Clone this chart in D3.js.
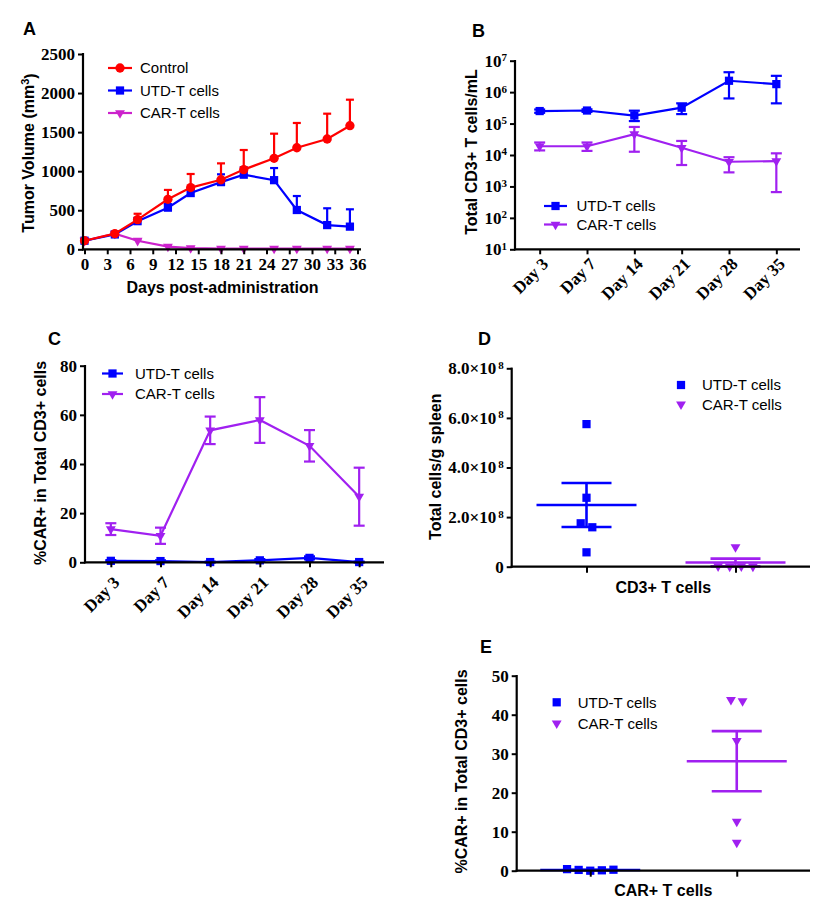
<!DOCTYPE html>
<html><head><meta charset="utf-8">
<script src="https://cdn.jsdelivr.net/npm/d3@7"></script>
<style>
body{margin:0;background:#fff;}
svg{display:block;}
.tick text{font-family:"Liberation Serif","Times New Roman",serif;font-weight:bold;font-size:17px;fill:#000;}
.title{font-family:"Liberation Sans",Arial,sans-serif;font-weight:bold;font-size:16px;fill:#000;}
.legend{font-family:"Liberation Sans",Arial,sans-serif;font-size:15px;fill:#000;}
.plabel{font-family:"Liberation Sans",Arial,sans-serif;font-weight:bold;font-size:18px;fill:#000;}
</style></head><body>
<svg id="chart" width="821" height="913"></svg>
<script>
// ---------- DATA ----------
// Panel A: tumor volume
const aDays = [0, 4, 7, 11, 14, 18, 21, 25, 28, 32, 35];
const aXTicks = [0, 3, 6, 9, 12, 15, 18, 21, 24, 27, 30, 33, 36];
const aYTicks = [0, 500, 1000, 1500, 2000, 2500];
const aControl   = [110, 200, 380, 640, 790, 890, 1020, 1165, 1300, 1412, 1582];
const aControlSD = [15, 20, 75, 120, 174, 210, 251, 315, 317, 324, 333];
const aUtd       = [110, 190, 360, 533, 720, 860, 955, 885, 503, 310, 290];
const aUtdSD     = [10, 15, 40, 45, 60, 100, 95, 155, 179, 215, 222];
const aCar       = [110, 200, 110, 35, 15, 10, 10, 10, 10, 10, 8];
const aCarSD     = [5, 10, 15, 10, 5, 3, 3, 3, 3, 3, 3];

// Panel B: total CD3+ T cells/mL (log scale)
const timeCats = ["Day 3", "Day 7", "Day 14", "Day 21", "Day 28", "Day 35"];
const bYTicks = [1e1, 1e2, 1e3, 1e4, 1e5, 1e6, 1e7];
const bUtd   = [2.5e5, 2.6e5, 1.8e5, 3.2e5, 2.3e6, 1.8e6];
const bUtdHi = [2.8e5, 2.85e5, 2.57e5, 4.4e5, 4.3e6, 3.3e6];
const bUtdLo = [2.2e5, 2.35e5, 1.2e5, 2.0e5, 6.3e5, 4.4e5];
const bCar   = [1.9e4, 1.9e4, 4.6e4, 1.7e4, 6.1e3, 6.4e3];
const bCarHi = [2.5e4, 2.5e4, 7.8e4, 2.8e4, 8.5e3, 1.13e4];
const bCarLo = [1.4e4, 1.35e4, 1.27e4, 4.8e3, 2.8e3, 6.6e2];

// Panel C: %CAR+ in total CD3+
const cYTicks = [0, 20, 40, 60, 80];
const cUtd    = [0.6, 0.5, 0.1, 0.8, 1.8, 0.1];
const cUtdErr = [0.3, 0.3, 0.2, 0.5, 0.6, 0.2];
const cCar    = [13.5, 10.8, 53.7, 57.9, 47.4, 26.7];
const cCarErr = [2.4, 3.3, 5.6, 9.3, 6.4, 11.8];

// Panel D: total cells / g spleen
const groupCats = ["UTD-T cells", "CAR-T cells"];
const dYTicks = [0, 2e8, 4e8, 6e8, 8e8];
const dUtd = [5.75e8, 2.78e8, 1.75e8, 1.59e8, 0.58e8];
const dCar = [0.79e8, 0.02e8, 0.01e8, 0.02e8, 0.01e8];

// Panel E: %CAR+ in total CD3+ (spleen)
const eYTicks = [0, 10, 20, 30, 40, 50];
const eUtd = [0.4, 0.2, 0.0, 0.1, 0.25];
const eCar = [43.8, 43.5, 33.3, 12.6, 7.2];

// ---------- STYLE ----------
const RED = "#ff0000", BLUE = "#0000ff", MAGENTA = "#cc22cc", PURPLE = "#a020f0";
const svg = d3.select("#chart");

function axisLine(x1, y1, x2, y2) {
  svg.append("line").attr("x1", x1).attr("y1", y1).attr("x2", x2).attr("y2", y2)
    .attr("stroke", "#000").attr("stroke-width", 2.2);
}
function yAxisAt(x, scale, ticks, fmt) {
  const g = svg.append("g").attr("transform", `translate(${x},0)`)
    .call(d3.axisLeft(scale).tickValues(ticks).tickSize(5).tickPadding(3).tickFormat(fmt || d3.format("d")));
  g.select(".domain").remove();
  g.selectAll(".tick line").attr("stroke", "#000").attr("stroke-width", 2);
  return g;
}
function xAxisAt(y, scale, ticks, fmt) {
  const ax = d3.axisBottom(scale).tickSize(5).tickPadding(4);
  if (ticks) ax.tickValues(ticks);
  if (fmt) ax.tickFormat(fmt);
  const g = svg.append("g").attr("transform", `translate(0,${y})`).call(ax);
  g.select(".domain").remove();
  g.selectAll(".tick line").attr("stroke", "#000").attr("stroke-width", 2);
  return g;
}
function rotLabels(g, dx, dy) {
  g.selectAll(".tick text").attr("x", 0).attr("y", 0).attr("dy", "0.35em")
    .attr("transform", `translate(${dx},${dy}) rotate(-45)`).style("text-anchor", "end");
}
function yTitle(cx, cy, txt) {
  return svg.append("text").attr("class", "title").attr("text-anchor", "middle")
    .attr("transform", `translate(${cx},${cy}) rotate(-90)`).attr("dy", "0.35em").text(txt);
}
function xTitle(cx, y, txt) {
  svg.append("text").attr("class", "title").attr("text-anchor", "middle").attr("x", cx).attr("y", y).text(txt);
}
function panelLabel(x, y, t) {
  svg.append("text").attr("class", "plabel").attr("x", x).attr("y", y).text(t);
}
const symSq = d3.symbol().type(d3.symbolSquare).size(68)();
const symCi = d3.symbol().type(d3.symbolCircle).size(68)();
const symTri = d3.symbol().type(d3.symbolTriangle).size(42)();
function marker(g, path, x, y, color, down) {
  g.append("path").attr("d", path).attr("fill", color)
    .attr("transform", `translate(${x},${y})` + (down ? " rotate(180)" : ""));
}
function errBar(g, x, yLo, yHi, color, capW, lw) {
  g.append("line").attr("x1", x).attr("x2", x).attr("y1", yLo).attr("y2", yHi)
    .attr("stroke", color).attr("stroke-width", lw || 2);
  [yLo, yHi].forEach(yy => g.append("line").attr("x1", x - capW / 2).attr("x2", x + capW / 2)
    .attr("y1", yy).attr("y2", yy).attr("stroke", color).attr("stroke-width", lw || 2));
}
function upBar(g, x, yMean, yHi, color, capW) {
  g.append("line").attr("x1", x).attr("x2", x).attr("y1", yMean).attr("y2", yHi)
    .attr("stroke", color).attr("stroke-width", 2.2);
  g.append("line").attr("x1", x - capW / 2).attr("x2", x + capW / 2)
    .attr("y1", yHi).attr("y2", yHi).attr("stroke", color).attr("stroke-width", 2.2);
}

// ---------- PANEL A ----------
{
  const x = d3.scaleLinear().domain([0, 36]).range([84.5, 357.5]);
  const y = d3.scaleLinear().domain([0, 2500]).range([249.3, 54]);
  const series = [
    { v: aCar, sd: aCarSD, c: MAGENTA, sym: symTri, down: true },
    { v: aUtd, sd: aUtdSD, c: BLUE, sym: symSq },
    { v: aControl, sd: aControlSD, c: RED, sym: symCi }
  ];
  const g = svg.append("g");
  series.forEach(s => {
    const pts = aDays.map((d, i) => [x(d), y(s.v[i])]);
    s.v.forEach((v, i) => upBar(g, x(aDays[i]), y(v), y(v + s.sd[i]), s.c, 8));
    g.append("path").attr("d", d3.line()(pts)).attr("fill", "none").attr("stroke", s.c).attr("stroke-width", 2.2);
    pts.forEach(p => marker(g, s.sym, p[0], p[1], s.c, s.down));
  });
  yAxisAt(83, y, aYTicks);
  xAxisAt(249.3, x, aXTicks);
  axisLine(83, 53, 83, 250.4);
  axisLine(82, 249.3, 361, 249.3);
  const t = yTitle(28.5, 153, "Tumor Volume (mm");
  t.append("tspan").attr("dy", "-0.45em").attr("font-size", "11px").text("3");
  t.append("tspan").attr("dy", "0.45em").text(")");
  xTitle(222.5, 293, "Days post-administration");
  const leg = [["Control", RED, symCi, false], ["UTD-T cells", BLUE, symSq, false], ["CAR-T cells", MAGENTA, symTri, true]];
  const ly = d3.scalePoint().domain(leg.map(d => d[0])).range([68, 113]);
  leg.forEach(d => {
    const yy = ly(d[0]);
    svg.append("line").attr("x1", 108).attr("x2", 132).attr("y1", yy).attr("y2", yy).attr("stroke", d[1]).attr("stroke-width", 2.2);
    marker(svg, d[2], 120, yy, d[1], d[3]);
    svg.append("text").attr("class", "legend").attr("x", 140).attr("y", yy).attr("dy", "0.35em").text(d[0]);
  });
  panelLabel(23, 35, "A");
}

// ---------- PANEL B ----------
{
  const x = d3.scalePoint().domain(timeCats).range([516, 800]).padding(0.5);
  const y = d3.scaleLog().domain([1e1, 1e7]).range([249.3, 60.7]);
  const g = svg.append("g");
  const series = [
    { v: bUtd, lo: bUtdLo, hi: bUtdHi, c: BLUE, sym: symSq },
    { v: bCar, lo: bCarLo, hi: bCarHi, c: PURPLE, sym: symTri, down: true }
  ];
  series.forEach(s => {
    const pts = timeCats.map((d, i) => [x(d), y(s.v[i])]);
    timeCats.forEach((d, i) => errBar(g, x(d), y(s.lo[i]), y(s.hi[i]), s.c, 11, 2.2));
    g.append("path").attr("d", d3.line()(pts)).attr("fill", "none").attr("stroke", s.c).attr("stroke-width", 2.2);
    pts.forEach(p => marker(g, s.sym, p[0], p[1], s.c, s.down));
  });
  const ya = yAxisAt(515, y, bYTicks, () => "");
  ya.selectAll(".tick text").each(function (d) {
    const t = d3.select(this);
    t.append("tspan").text("10");
    t.append("tspan").attr("dy", "-0.5em").attr("font-size", "11px").text(Math.round(Math.log10(d)));
  });
  const xa = xAxisAt(249.3, x);
  rotLabels(xa, 5, 11.5);
  axisLine(515, 60, 515, 250.4);
  axisLine(514, 249.3, 800, 249.3);
  yTitle(471.7, 152, "Total CD3+ T cells/mL");
  const leg = [["UTD-T cells", BLUE, symSq, false], ["CAR-T cells", PURPLE, symTri, true]];
  const ly = d3.scalePoint().domain(leg.map(d => d[0])).range([206, 224.5]);
  leg.forEach(d => {
    const yy = ly(d[0]);
    svg.append("line").attr("x1", 544).attr("x2", 567).attr("y1", yy).attr("y2", yy).attr("stroke", d[1]).attr("stroke-width", 2.2);
    marker(svg, d[2], 555.5, yy, d[1], d[3]);
    svg.append("text").attr("class", "legend").attr("x", 576.5).attr("y", yy).attr("dy", "0.35em").text(d[0]);
  });
  panelLabel(472, 37, "B");
}

// ---------- PANEL C ----------
{
  const x = d3.scalePoint().domain(timeCats).range([86, 384]).padding(0.5);
  const y = d3.scaleLinear().domain([0, 80]).range([562.3, 365.7]);
  const g = svg.append("g");
  const series = [
    { v: cCar, e: cCarErr, c: PURPLE, sym: symTri, down: true },
    { v: cUtd, e: cUtdErr, c: BLUE, sym: symSq }
  ];
  series.forEach(s => {
    const pts = timeCats.map((d, i) => [x(d), y(s.v[i])]);
    timeCats.forEach((d, i) => errBar(g, x(d), y(s.v[i] - s.e[i]), y(s.v[i] + s.e[i]), s.c, 11, 2.2));
    g.append("path").attr("d", d3.line()(pts)).attr("fill", "none").attr("stroke", s.c).attr("stroke-width", 2.2);
    pts.forEach(p => marker(g, s.sym, p[0], p[1], s.c, s.down));
  });
  yAxisAt(85, y, cYTicks);
  const xa = xAxisAt(562.3, x);
  rotLabels(xa, 5, 17);
  axisLine(85, 365, 85, 563.4);
  axisLine(84, 562.3, 384, 562.3);
  yTitle(40, 463, "%CAR+ in Total CD3+ cells");
  const leg = [["UTD-T cells", BLUE, symSq, false], ["CAR-T cells", PURPLE, symTri, true]];
  const ly = d3.scalePoint().domain(leg.map(d => d[0])).range([373.5, 394]);
  leg.forEach(d => {
    const yy = ly(d[0]);
    svg.append("line").attr("x1", 102).attr("x2", 123).attr("y1", yy).attr("y2", yy).attr("stroke", d[1]).attr("stroke-width", 2.2);
    marker(svg, d[2], 112.5, yy, d[1], d[3]);
    svg.append("text").attr("class", "legend").attr("x", 135).attr("y", yy).attr("dy", "0.35em").text(d[0]);
  });
  panelLabel(48, 345, "C");
}

// ---------- scatter helper (D, E) ----------
function dodge(values, y, thr, spacing) {
  const idx = values.map((v, i) => i).sort((a, b) => y(values[a]) - y(values[b]));
  const groups = [];
  idx.forEach(i => {
    const last = groups[groups.length - 1];
    if (last && Math.abs(y(values[i]) - y(values[last[last.length - 1]])) < thr) last.push(i);
    else groups.push([i]);
  });
  const off = new Array(values.length).fill(0);
  groups.forEach(gr => {
    gr.sort((a, b) => a - b);
    gr.forEach((i, k) => off[i] = (k - (gr.length - 1) / 2) * spacing);
  });
  return off;
}
function scatterPanel(cfg) {
  const x = d3.scalePoint().domain(groupCats).range([cfg.x0, cfg.x1]).padding(0.5);
  const y = d3.scaleLinear().domain(cfg.domain).range([cfg.yb, cfg.yt]);
  const g = svg.append("g");
  const series = [
    { v: cfg.utd, c: BLUE, sym: symSq, cat: groupCats[0] },
    { v: cfg.car, c: PURPLE, sym: symTri, down: true, cat: groupCats[1] }
  ];
  series.forEach(s => {
    const cx = x(s.cat);
    const off = dodge(s.v, y, 8, 11.6);
    s.v.forEach((v, i) => marker(g, s.sym, cx + off[i], y(v), s.c, s.down));
    const m = d3.mean(s.v), sem = d3.deviation(s.v) / Math.sqrt(s.v.length);
    g.append("line").attr("x1", cx - 50).attr("x2", cx + 50).attr("y1", y(m)).attr("y2", y(m))
      .attr("stroke", s.c).attr("stroke-width", 2.4);
    errBar(g, cx, y(m - sem), y(m + sem), s.c, 50, 2.6);
  });
  const ya = yAxisAt(cfg.ax, y, cfg.ticks, cfg.fmt);
  if (cfg.post) cfg.post(ya);
  xAxisAt(cfg.yb, x, null, () => "").selectAll(".tick line").attr("y2", 6);
  axisLine(cfg.ax, cfg.yt - 0.7, cfg.ax, cfg.yb + 1.1);
  axisLine(cfg.ax - 1, cfg.yb, cfg.x1, cfg.yb);
  yTitle(cfg.titleX, cfg.titleY, cfg.yTitle);
  xTitle(663.3, cfg.xTitleY, cfg.xTitle);
  const leg = [[groupCats[0], BLUE, symSq, false], [groupCats[1], PURPLE, symTri, true]];
  const ly = d3.scalePoint().domain(groupCats).range(cfg.legY);
  leg.forEach(d => {
    const yy = ly(d[0]);
    marker(svg, d[2], cfg.legX, yy, d[1], d[3]);
    svg.append("text").attr("class", "legend").attr("x", cfg.legX + 21).attr("y", yy).attr("dy", "0.35em").text(d[0]);
  });
  panelLabel(cfg.lx, cfg.ly, cfg.label);
}

// ---------- PANEL D ----------
scatterPanel({
  x0: 512, x1: 810, ax: 511.7, yb: 566.7, yt: 368.3, domain: [0, 8e8],
  utd: dUtd, car: dCar, ticks: dYTicks, fmt: () => "",
  post: ya => ya.selectAll(".tick text").each(function (d) {
    const t = d3.select(this);
    if (d === 0) { t.text("0"); return; }
    t.append("tspan").text((d / 1e8).toFixed(1) + "\u00d710");
    t.append("tspan").attr("dy", "-0.5em").attr("dx", "2").attr("font-size", "11px").text("8");
  }),
  titleX: 435, titleY: 466.7, yTitle: "Total cells/g spleen",
  xTitleY: 593, xTitle: "CD3+ T cells",
  legX: 681, legY: [385, 404.3], lx: 478, ly: 345, label: "D"
});

// ---------- PANEL E ----------
scatterPanel({
  x0: 517, x1: 810, ax: 516.7, yb: 870.7, yt: 675.7, domain: [0, 50],
  utd: eUtd, car: eCar, ticks: eYTicks, fmt: d3.format("d"),
  titleX: 461.7, titleY: 771.5, yTitle: "%CAR+ in Total CD3+ cells",
  xTitleY: 896, xTitle: "CAR+ T cells",
  legX: 556.7, legY: [702.3, 723.3], lx: 480, ly: 653, label: "E"
});
</script>
</body></html>
